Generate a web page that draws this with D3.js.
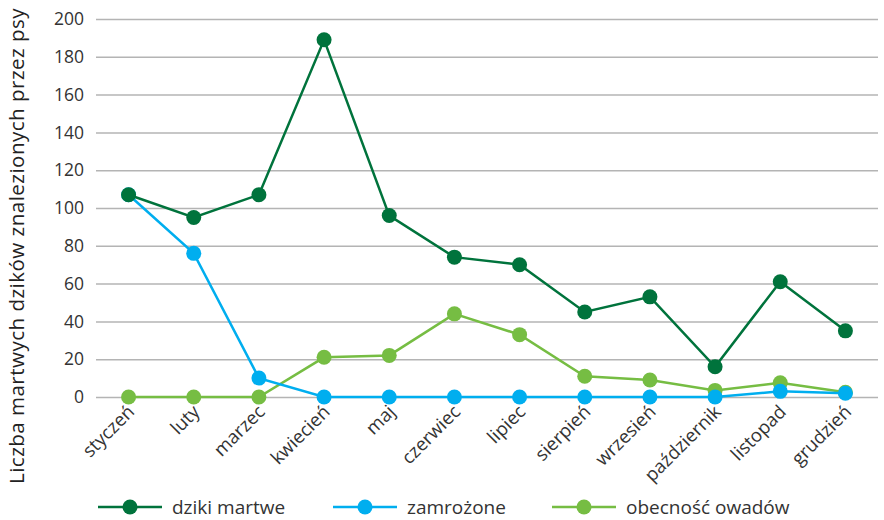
<!DOCTYPE html>
<html>
<head>
<meta charset="utf-8">
<script src="https://cdn.jsdelivr.net/npm/d3@7"></script>
<style>
	body { margin: 0; background: #fff; }
	svg { display: block; font-family: "Open Sans", sans-serif; }
</style>
</head>
<body>
<svg id="chart" width="884" height="520"></svg>
<script>
(function(){
	'use strict';

	var months = ['styczeń', 'luty', 'marzec', 'kwiecień', 'maj', 'czerwiec', 'lipiec',
		'sierpień', 'wrzesień', 'październik', 'listopad', 'grudzień'];
	var dzikiMartwe = [107, 95, 107, 189, 96, 74, 70, 45, 53, 16, 61, 35];
	var zamrozone = [107, 76, 10, 0, 0, 0, 0, 0, 0, 0, 3, 2];
	var owady = [0, 0, 0, 21, 22, 44, 33, 11, 9, 3.5, 7.5, 2.5];
	var yTicks = [0, 20, 40, 60, 80, 100, 120, 140, 160, 180, 200];
	var seriesNames = ['dziki martwe', 'zamrożone', 'obecność owadów'];
	var seriesColors = ['#00733c', '#00aeef', '#76bd43'];

	var series = [dzikiMartwe, zamrozone, owady];
	var svg = d3.select('#chart');

	var x = d3.scaleBand().domain(months).range([96, 878]);
	var y = d3.scaleLinear().domain([0, 200]).range([397, 19]);

	// grid + y labels
	var yAxis = svg.append('g')
		.attr('transform', 'translate(96,0)')
		.call(d3.axisLeft(y).tickValues(yTicks).tickSize(-782).tickPadding(12));
	yAxis.select('.domain').remove();
	yAxis.selectAll('.tick line').attr('stroke', '#b4b4b4').attr('stroke-width', 1.5);
	yAxis.selectAll('.tick text')
		.attr('font-size', '17.5px')
		.attr('fill', '#333')
		.attr('font-family', '"Open Sans", sans-serif');

	svg.append('text')
		.attr('transform', 'translate(24,246) rotate(-90)')
		.attr('text-anchor', 'middle')
		.attr('font-size', '20.5px')
		.attr('letter-spacing', '0.5px')
		.attr('fill', '#222')
		.text('Liczba martwych dzików znalezionych przez psy');

	// x labels
	var xAxis = svg.append('g')
		.attr('transform', 'translate(0,397)')
		.call(d3.axisBottom(x).tickSize(0).tickPadding(0));
	xAxis.select('.domain').remove();
	xAxis.selectAll('.tick text')
		.attr('font-size', '18.5px')
		.attr('fill', '#333')
		.attr('font-family', '"Open Sans", sans-serif')
		.attr('text-anchor', 'end')
		.attr('dy', null)
		.attr('y', 0)
		.attr('transform', 'translate(7,16) rotate(-45)');

	var line = d3.line()
		.x(function(d, i){ return x(months[i]) + x.bandwidth() / 2; })
		.y(function(d){ return y(d); });

	var order = [2, 1, 0];
	order.forEach(function(s){
		var g = svg.append('g');
		g.append('path')
			.datum(series[s])
			.attr('d', line)
			.attr('fill', 'none')
			.attr('stroke', seriesColors[s])
			.attr('stroke-width', 2.5);
		g.selectAll('circle')
			.data(series[s])
			.enter().append('circle')
			.attr('cx', function(d, i){ return x(months[i]) + x.bandwidth() / 2; })
			.attr('cy', function(d){ return y(d); })
			.attr('r', 7.5)
			.attr('fill', seriesColors[s]);
	});

	// legend
	var legendX = [98, 333, 552];
	var legend = svg.append('g').attr('transform', 'translate(0,507)');
	seriesNames.forEach(function(name, i){
		var g = legend.append('g').attr('transform', 'translate(' + legendX[i] + ',0)');
		g.append('line')
			.attr('x1', 0).attr('x2', 64)
			.attr('stroke', seriesColors[i])
			.attr('stroke-width', 2.5);
		g.append('circle').attr('cx', 32).attr('r', 7.5).attr('fill', seriesColors[i]);
		g.append('text')
			.attr('x', 74)
			.attr('dy', '0.35em')
			.attr('font-size', '19px')
			.attr('fill', '#333')
			.text(name);
	});
})();
</script>
</body>
</html>
